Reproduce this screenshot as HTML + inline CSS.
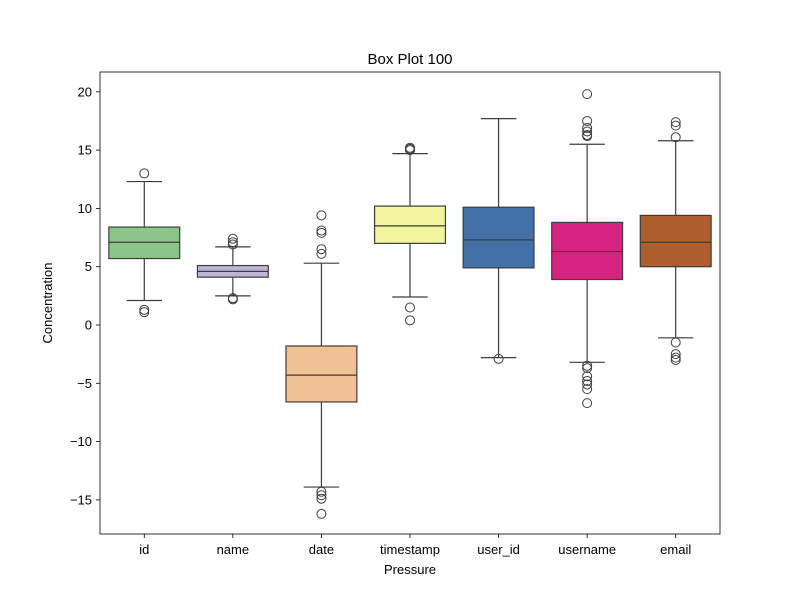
<!DOCTYPE html>
<html><head><meta charset="utf-8"><style>body{margin:0;background:#fff}svg{display:block;font-family:"Liberation Sans","DejaVu Sans",sans-serif}</style></head>
<body>
<svg id="chart" width="800" height="600" viewBox="0 0 800 600" xmlns="http://www.w3.org/2000/svg"></svg>
<script>
const categories=["id","name","date","timestamp","user_id","username","email"];
const colors=["#8cc68a","#c0b4d6","#f0c194","#f2f4a0","#4470a8","#d6237f","#ac5f2c"];
const whiskLow=[2.1,2.5,-13.9,2.4,-2.8,-3.2,-1.1];
const q1=[5.7,4.1,-6.6,7.0,4.9,3.9,5.0];
const medians=[7.1,4.6,-4.3,8.5,7.3,6.3,7.1];
const q3=[8.4,5.1,-1.8,10.2,10.1,8.8,9.4];
const whiskHigh=[12.3,6.7,5.3,14.7,17.7,15.5,15.8];
const outliers=[[13.0,1.3,1.1],[7.4,7.1,6.9,2.3,2.2],[9.4,8.1,7.9,6.5,6.1,-14.3,-14.6,-14.9,-16.2],[15.2,15.0,15.1,1.5,0.4],[-2.9],[19.8,17.5,16.9,16.6,16.3,16.2,-3.5,-3.7,-4.4,-4.8,-5.1,-5.5,-6.7],[17.4,17.1,16.1,-1.5,-2.5,-2.8,-3.0]];
const yTicks=[-15,-10,-5,0,5,10,15,20];
const L=100,R=720,T=72,B=534;
const y=v=>325-v*11.66;
const bw=(R-L)/categories.length;
const x=i=>L+bw*(i+0.5);
const svg=document.getElementById('chart');
const NS="http://www.w3.org/2000/svg";
function mk(t,a,p){const e=document.createElementNS(NS,t);for(const k in a)e.setAttribute(k,a[k]);(p||svg).appendChild(e);return e;}
const title=mk('text',{x:410,y:64,'text-anchor':'middle','font-size':15});title.textContent="Box Plot 100";


yTicks.forEach(v=>{
 const g=mk('g',{});
 
 
 mk('line',{x1:L-4,x2:L,y1:y(v),y2:y(v),stroke:'#000','stroke-width':0.8},g);
 const t=mk('text',{x:L-8,y:y(v)+4.5,'text-anchor':'end','font-size':13},g);t.textContent=String(v).replace('-','\u2212');
});
categories.forEach((c,i)=>{
 const cx=x(i),w=bw*0.8;
 const g=mk('g',{});
 
 
 mk('line',{x1:cx,x2:cx,y1:y(whiskLow[i]),y2:y(q1[i]),stroke:'#3d3d3d','stroke-width':1.2},g);
 mk('line',{x1:cx,x2:cx,y1:y(q3[i]),y2:y(whiskHigh[i]),stroke:'#3d3d3d','stroke-width':1.2},g);
 mk('line',{x1:cx-w/4,x2:cx+w/4,y1:y(whiskLow[i]),y2:y(whiskLow[i]),stroke:'#3d3d3d','stroke-width':1.2},g);
 mk('line',{x1:cx-w/4,x2:cx+w/4,y1:y(whiskHigh[i]),y2:y(whiskHigh[i]),stroke:'#3d3d3d','stroke-width':1.2},g);
 mk('rect',{x:cx-w/2,y:y(q3[i]),width:w,height:y(q1[i])-y(q3[i]),fill:colors[i],stroke:'#3d3d3d','stroke-width':1.2},g);
 mk('line',{x1:cx-w/2,x2:cx+w/2,y1:y(medians[i]),y2:y(medians[i]),stroke:'#3d3d3d','stroke-width':1.2},g);
 outliers[i].forEach(v=>{
  const o=mk('circle',{cx:cx,cy:y(v),r:4.5,fill:'none',stroke:'#3d3d3d','stroke-width':1},g);
  
  
 });
 mk('line',{x1:cx,x2:cx,y1:B,y2:B+4,stroke:'#000','stroke-width':0.8});
 const t=mk('text',{x:cx,y:B+20,'text-anchor':'middle','font-size':13});t.textContent=c;
 
 
});
const frame=mk('rect',{x:L,y:T,width:R-L,height:B-T,fill:'none',stroke:'#000','stroke-width':0.8});


const xt=mk('text',{x:410,y:574,'text-anchor':'middle','font-size':13});xt.textContent="Pressure";


const yt=mk('text',{x:52,y:303,'text-anchor':'middle','font-size':13,transform:'rotate(-90 52 303)'});yt.textContent="Concentration";


</script>
</body></html>
